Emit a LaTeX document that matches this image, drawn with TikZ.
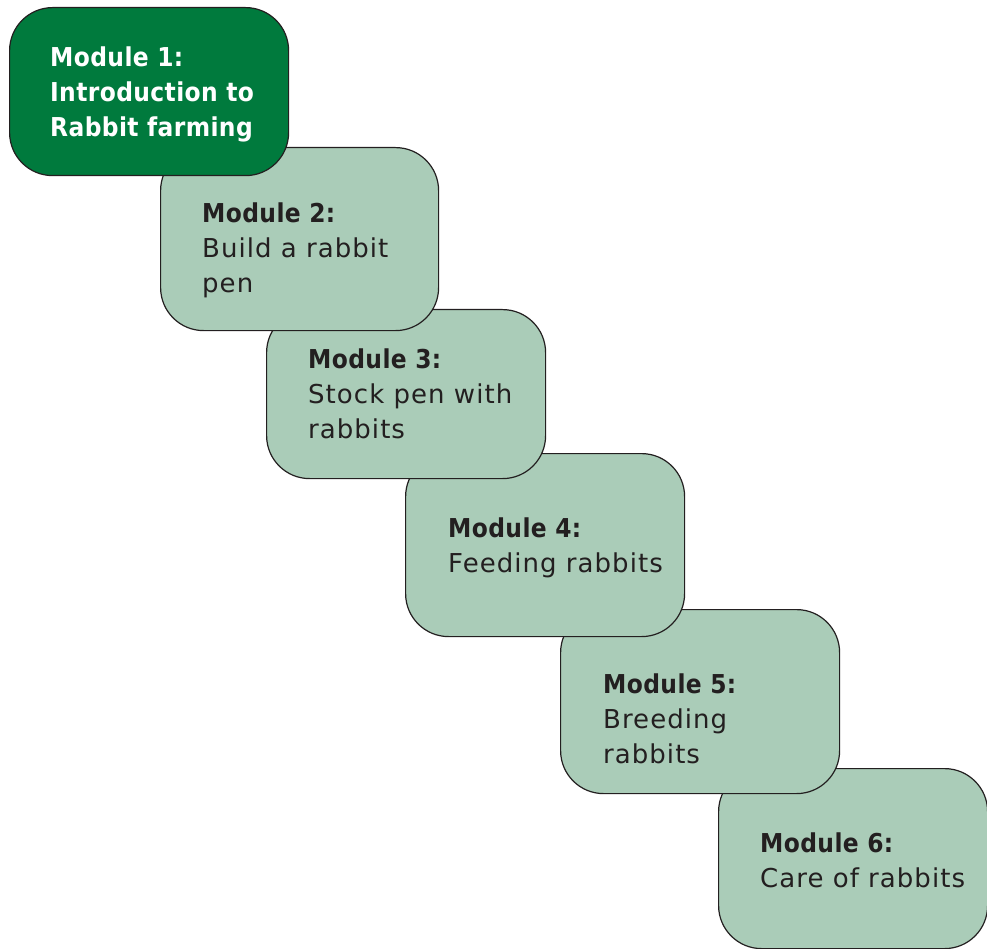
\documentclass[tikz,border=0pt]{standalone}
\usepackage{fontspec}
\setmainfont{DejaVu Sans}[LetterSpace=4, BoldFont={DejaVu Sans Condensed Bold}, BoldFeatures={LetterSpace=1.5}]
\usetikzlibrary{calc}

\definecolor{darkgreen}{RGB}{0,122,61}
\definecolor{palegreen}{RGB}{170,204,184}
\definecolor{inkgray}{RGB}{35,31,32}

\tikzset{
	modbox/.style={draw=inkgray, line width=1.2pt, rounded corners=43pt, fill=palegreen,
		anchor=north west, inner sep=0pt, minimum width=279pt},
	modtext/.style={anchor=base west, align=left, inner sep=0pt, text=inkgray,
		font=\fontsize{26}{35}\selectfont},
}

\begin{document}
\begin{tikzpicture}[x=1pt, y=-1pt]

	\useasboundingbox (0,0) rectangle (987,949);

	% last module first, so each earlier box lies on top
	% (text nodes sit on the baseline of their last line)
	\node [modbox, minimum width=269pt, minimum height=180pt] (m6) at (718, 768) {};
	\node [modtext] (t6) at ($(m6.north west)+(42, 119)$) {\textbf{Module 6:}\\Care of rabbits};

	\node [modbox, minimum height=184pt] (m5) at (560, 609) {};
	\node [modtext] (t5) at ($(m5.north west)+(43, 154)$) {\textbf{Module 5:}\\Breeding\\rabbits};

	\node [modbox, minimum height=183pt] (m4) at (405, 453) {};
	\node [modtext] (t4) at ($(m4.north west)+(43, 119)$) {\textbf{Module 4:}\\Feeding rabbits};

	\node [modbox, minimum height=169pt] (m3) at (266, 309) {};
	\node [modtext] (t3) at ($(m3.north west)+(42, 129)$) {\textbf{Module 3:}\\Stock pen with\\rabbits};

	\node [modbox, minimum width=278pt, minimum height=183pt] (m2) at (160, 147) {};
	\node [modtext] (t2) at ($(m2.north west)+(42, 146)$) {\textbf{Module 2:}\\Build a rabbit\\pen};

	\node [modbox, fill=darkgreen, minimum height=168pt] (m1) at (9, 7) {};
	\node [modtext, text=white, font=\fontsize{26}{35}\selectfont\bfseries] (t1) at ($(m1.north west)+(41, 130)$)
		{Module 1:\\Introduction to\\Rabbit farming};

\end{tikzpicture}
\end{document}
